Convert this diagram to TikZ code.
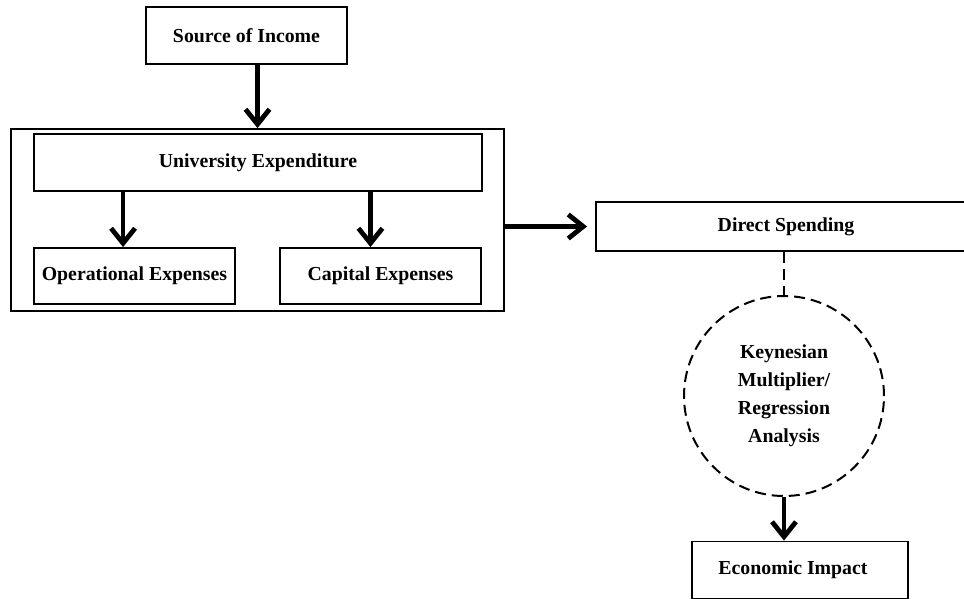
\documentclass[tikz,border=0pt]{standalone}
\usepackage{fontspec}
\setmainfont{Liberation Serif}
\usetikzlibrary{arrows.meta,calc,shapes}

\begin{document}
\begin{tikzpicture}[x=1pt,y=-1pt,
    box/.style={draw, line width=1.8pt, inner sep=0pt, align=center,
      font=\fontsize{19.8}{28}\selectfont\bfseries},
    flow/.style={-{Straight Barb[length=15pt,width=24pt]}, line width=4.8pt},
    link/.style={line width=2pt, dash pattern=on 11pt off 6pt}]
  \useasboundingbox (0,0) rectangle (964,598);
  \node[box, minimum width=201pt, minimum height=57pt] (income) at (246.5,35.5) {Source of Income};
  \node[box, minimum width=493pt, minimum height=182pt] (grp) at (257.5,220) {};
  \node[box, minimum width=448pt, minimum height=57pt] (uniexp) at (258,162.5) {University Expenditure};
  \node[box, minimum width=201pt, minimum height=56pt] (opex) at (134.5,276) {Operational Expenses};
  \node[box, minimum width=201pt, minimum height=56pt] (capex) at (380.5,276) {Capital Expenses};
  \node[box, minimum width=380pt, minimum height=49pt] (direct) at (786,226.5) {Direct Spending};
  \node[box, circle, link, minimum size=200pt] (model) at (784,396)
    {Keynesian\\Multiplier/\\Regression\\Analysis};
  \node[box, minimum width=216pt, minimum height=57pt] (impact) at (800,570) {Economic Impact\hspace{14pt}};
  \coordinate (opin) at ($(uniexp.south west)!.2!(uniexp.south east)$);
  \coordinate (capin) at ($(uniexp.south west)!.75!(uniexp.south east)$);
  \path[flow]
    (income.south -| grp.north) edge (grp.north)
    (opin) edge (opin |- opex.north)
    (capin) edge (capin |- capex.north)
    (grp.east |- direct.west) edge [shorten >=8pt] (direct.west)
    (model.south) edge (model.south |- impact.north);
  % dashed lead into the multiplier
  \draw[link] (model.north |- direct.south) -- (model.north);
\end{tikzpicture}
\end{document}
